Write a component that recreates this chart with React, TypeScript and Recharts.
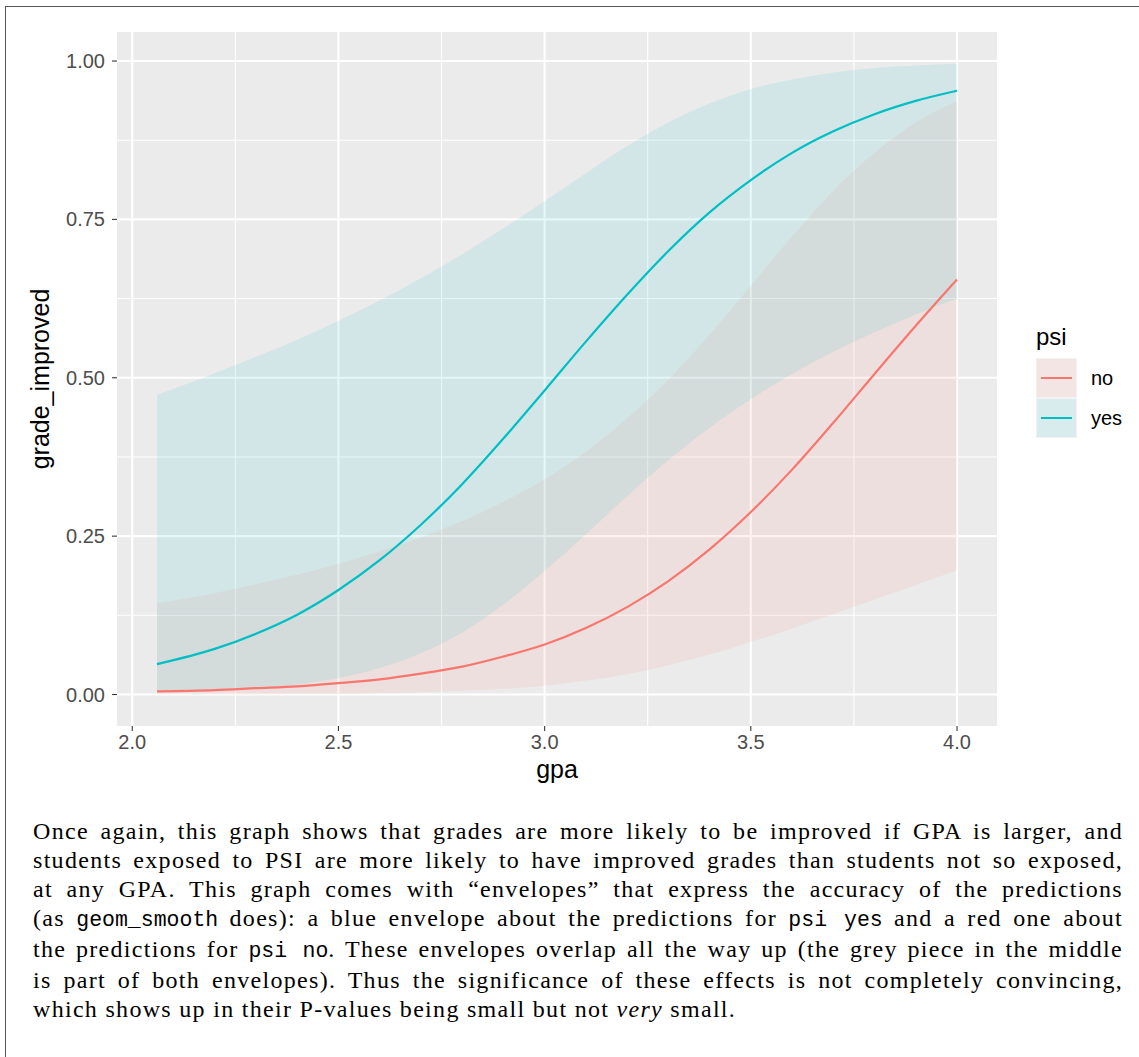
import { ComposedChart, Area, Line, XAxis, YAxis, CartesianGrid, Label } from "recharts";

const GPA = [2.06, 2.2, 2.3, 2.4, 2.5, 2.6, 2.7, 2.8, 2.9, 3.0, 3.1, 3.2, 3.3, 3.4, 3.5, 3.6, 3.7, 3.8, 3.9, 4.0];

const FIT_YES = [0.048, 0.072, 0.096, 0.126, 0.165, 0.212, 0.268, 0.332, 0.404, 0.48, 0.557, 0.631, 0.7, 0.761, 0.812, 0.855, 0.889, 0.916, 0.937, 0.953];
const LOW_YES = [0.003, 0.006, 0.01, 0.016, 0.026, 0.042, 0.065, 0.098, 0.142, 0.195, 0.253, 0.313, 0.37, 0.421, 0.466, 0.506, 0.541, 0.572, 0.6, 0.625];
const HIGH_YES = [0.473, 0.507, 0.533, 0.56, 0.59, 0.622, 0.657, 0.695, 0.736, 0.779, 0.823, 0.866, 0.903, 0.933, 0.956, 0.971, 0.982, 0.989, 0.993, 0.996];

const FIT_NO = [0.005, 0.007, 0.01, 0.013, 0.018, 0.024, 0.033, 0.044, 0.06, 0.079, 0.105, 0.138, 0.179, 0.229, 0.288, 0.355, 0.429, 0.506, 0.582, 0.655];
const LOW_NO = [0.0, 0.0, 0.0, 0.001, 0.001, 0.002, 0.004, 0.006, 0.009, 0.014, 0.022, 0.032, 0.046, 0.063, 0.083, 0.104, 0.127, 0.15, 0.173, 0.196];
const HIGH_NO = [0.144, 0.16, 0.174, 0.189, 0.206, 0.226, 0.248, 0.274, 0.304, 0.34, 0.383, 0.436, 0.497, 0.568, 0.645, 0.723, 0.795, 0.855, 0.903, 0.936];

const X_TICKS = [2, 2.5, 3, 3.5, 4];
const X_MINOR = [2.25, 2.75, 3.25, 3.75];
const Y_TICKS = [0, 0.25, 0.5, 0.75, 1];
const Y_MINOR = [0.125, 0.375, 0.625, 0.875];

const RED = "#F8766D";
const CYAN = "#00BFC4";
const SANS = "'Liberation Sans', Arial, sans-serif";
const MONO = "'Liberation Mono', monospace";

const data = GPA.map((gpa, i) => ({
  gpa,
  noFit: FIT_NO[i],
  noBand: [LOW_NO[i], HIGH_NO[i]],
  yesFit: FIT_YES[i],
  yesBand: [LOW_YES[i], HIGH_YES[i]],
}));

// typewriter bits of the caption
const tt = (s: string) => <span style={{ fontFamily: MONO, fontSize: 21.5, letterSpacing: 0 }}>{s}</span>;

const lineStyle = { display: "block", textAlign: "justify" as const, textAlignLast: "justify" as const, whiteSpace: "nowrap" as const };

function Legend() {
  const key = (color: string) => (
    <div style={{ width: 41, height: 40, background: "#F2F2F2", padding: 1, boxSizing: "border-box" }}>
      <div style={{ width: "100%", height: "100%", background: color === RED ? "rgba(248,118,109,0.1)" : "rgba(0,191,196,0.1)", position: "relative" }}>
        <div style={{ position: "absolute", left: 4, right: 4, top: 18, height: 2, background: color }} />
      </div>
    </div>
  );
  return (
    <div style={{ position: "absolute", left: 1036, top: 322, fontFamily: SANS }}>
      <div style={{ fontSize: 24, lineHeight: "30px", height: 36 }}>psi</div>
      {[["no", RED], ["yes", CYAN]].map(([lab, c]) => (
        <div key={lab} style={{ display: "flex", alignItems: "center", height: 40 }}>
          {key(c)}
          <span style={{ marginLeft: 14, fontSize: 20 }}>{lab}</span>
        </div>
      ))}
    </div>
  );
}

export default function App() {
  return (
    <div style={{ position: "absolute", left: 0, top: 0, width: 1139, height: 1057, overflow: "hidden", background: "#fff" }}>
      <div style={{ position: "absolute", left: 5, top: 6, width: 1200, height: 1100, borderLeft: "1.5px solid #555", borderTop: "1.5px solid #555" }} />
      <div style={{ position: "absolute", left: 0, top: 0 }}>
        <ComposedChart width={1139} height={800} data={data} margin={{ top: 32, right: 142, left: 17, bottom: 4 }}>
          <CartesianGrid fill="#EBEBEB" stroke="#FFFFFF" strokeWidth={1.07} horizontalValues={Y_MINOR} verticalValues={X_MINOR} />
          <CartesianGrid stroke="#FFFFFF" strokeWidth={2.13} horizontalValues={Y_TICKS} verticalValues={X_TICKS} />
          <XAxis
            dataKey="gpa"
            type="number"
            domain={[1.963, 4.097]}
            ticks={X_TICKS}
            allowDataOverflow
            height={70}
            axisLine={false}
            tickSize={5}
            tickMargin={4}
            tickLine={{ stroke: "#333333", strokeWidth: 1.07 }}
            tick={{ fill: "#4D4D4D", fontSize: 20, fontFamily: SANS }}
            tickFormatter={(v: number) => v.toFixed(1)}
          >
            <Label value="gpa" position="insideBottom" offset={18} style={{ fill: "#000", fontSize: 25, fontFamily: SANS }} />
          </XAxis>
          <YAxis
            type="number"
            domain={[-0.0497, 1.0458]}
            ticks={Y_TICKS}
            allowDataOverflow
            width={100}
            axisLine={false}
            tickSize={5}
            tickMargin={7}
            tickLine={{ stroke: "#333333", strokeWidth: 1.07 }}
            tick={{ fill: "#4D4D4D", fontSize: 20, fontFamily: SANS }}
            tickFormatter={(v: number) => v.toFixed(2)}
          >
            <Label
              content={(p: any) => {
                const vb = p.viewBox || { x: 17, y: 32, width: 100, height: 694 };
                const cx = vb.x + 23;
                const cy = vb.y + vb.height / 2;
                return (
                  <text x={cx} y={cy} transform={`rotate(-90 ${cx} ${cy})`} textAnchor="middle" dominantBaseline="central" style={{ fill: "#000", fontSize: 25, fontFamily: SANS }}>
                    grade_improved
                  </text>
                );
              }}
            />
          </YAxis>
          <Area type="monotone" dataKey="noBand" stroke="none" fill={RED} fillOpacity={0.1} isAnimationActive={false} activeDot={false} />
          <Line type="monotone" dataKey="noFit" stroke={RED} strokeWidth={2.2} dot={false} activeDot={false} isAnimationActive={false} />
          <Area type="monotone" dataKey="yesBand" stroke="none" fill={CYAN} fillOpacity={0.1} isAnimationActive={false} activeDot={false} />
          <Line type="monotone" dataKey="yesFit" stroke={CYAN} strokeWidth={2.2} dot={false} activeDot={false} isAnimationActive={false} />
        </ComposedChart>
      </div>
      <Legend />
      <div style={{ position: "absolute", left: 33, top: 817, width: 1090, fontFamily: "'Liberation Serif', 'Times New Roman', serif", fontSize: 24, letterSpacing: 1.3, lineHeight: "29px", color: "#000" }}>
        <span style={lineStyle}>Once again, this graph shows that grades are more likely to be improved if GPA is larger, and</span>
        <span style={lineStyle}>students exposed to PSI are more likely to have improved grades than students not so exposed,</span>
        <span style={lineStyle}>at any GPA. This graph comes with “envelopes” that express the accuracy of the predictions</span>
        <span style={lineStyle}>(as {tt("geom_smooth")} does): a blue envelope about the predictions for {tt("psi yes")} and a red one about</span>
        <span style={lineStyle}>the predictions for {tt("psi no")}. These envelopes overlap all the way up (the grey piece in the middle</span>
        <span style={lineStyle}>is part of both envelopes). Thus the significance of these effects is not completely convincing,</span>
        <span style={{ display: "block" }}>which shows up in their P-values being small but not <i>very</i> small.</span>
      </div>
    </div>
  );
}
